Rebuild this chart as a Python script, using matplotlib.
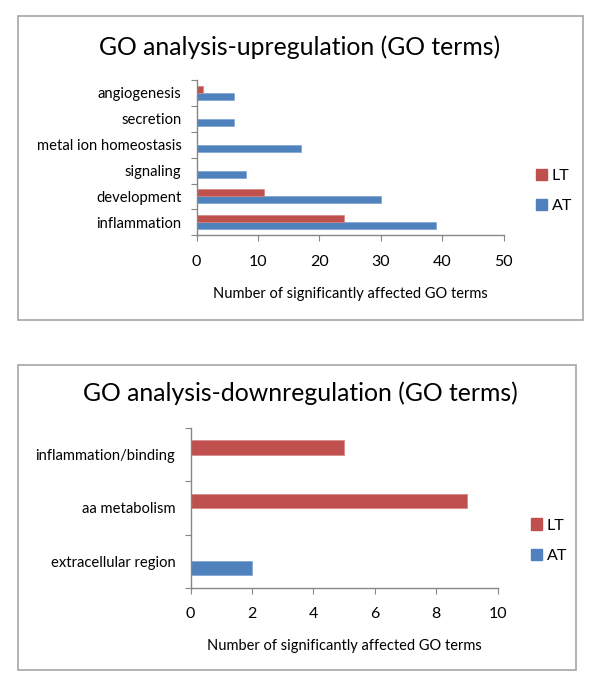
import numpy as np
import matplotlib
matplotlib.use("Agg")
import matplotlib.pyplot as plt
from matplotlib.patches import Rectangle, Patch

# Data
up_categories = ["inflammation", "development", "signaling", "metal ion homeostasis", "secretion", "angiogenesis"]
up_AT = [39, 30, 8, 17, 6, 6]
up_LT = [24, 11, 0, 0, 0, 1]
up_ticks = [0, 10, 20, 30, 40, 50]

down_categories = ["extracellular region", "aa metabolism", "inflammation/binding"]
down_AT = [2, 0, 0]
down_LT = [0, 9, 5]
down_ticks = [0, 2, 4, 6, 8, 10]

series_names = ["LT", "AT"]
xlabel = "Number of significantly affected GO terms"

RED = "#C0504D"
BLUE = "#4F81BD"
AXGRAY = "#868686"

plt.rcParams['font.family'] = ['Lato', 'DejaVu Sans']

fig = plt.figure(figsize=(6, 6.94), dpi=100)

#outer chart borders, like the Excel chart area
fig.patches.append(Rectangle((0.0305, 0.5389), 0.9407, 0.438, transform=fig.transFigure,
                             fill=False, edgecolor="#A6A6A6", linewidth=1.2))
fig.patches.append(Rectangle((0.0305, 0.0346), 0.9295, 0.4395, transform=fig.transFigure,
                             fill=False, edgecolor="#A6A6A6", linewidth=1.2))


def draw_panel(rect, cats, at, lt, ticks, title, title_y, legend_xy):
    ax = fig.add_axes(rect)
    n = len(cats)
    y = np.arange(n)
    h = 0.27
    ax.barh(y - h / 2, at, height=h, color=BLUE, edgecolor="#7FA3D3", linewidth=0.5)
    ax.barh(y + h / 2, lt, height=h, color=RED, edgecolor="#D48583", linewidth=0.5)
    ax.set_ylim(-0.5, n - 0.5)
    ax.set_xlim(ticks[0], ticks[-1])

    #category boundaries get the tick marks, labels sit on minor ticks
    ax.set_yticks(np.arange(n + 1) - 0.5)
    ax.set_yticklabels([])
    ax.set_yticks(y, minor=True)
    ax.set_yticklabels(cats, minor=True, fontsize=10.6)
    ax.tick_params(axis="y", which="major", length=4, color=AXGRAY, direction="out")
    ax.tick_params(axis="y", which="minor", length=0, pad=11)

    ax.set_xticks(ticks)
    ax.set_xticklabels([str(t) for t in ticks], fontsize=11.5)
    ax.tick_params(axis="x", length=4, color=AXGRAY, direction="out", pad=10)
    ax.set_xlabel(xlabel, fontsize=10.5, labelpad=13)

    for s in ["top", "right"]:
        ax.spines[s].set_visible(False)
    for s in ["left", "bottom"]:
        ax.spines[s].set_color(AXGRAY)
        ax.spines[s].set_linewidth(1)

    fig.text(0.5, title_y, title, ha="center", va="center", fontsize=17.8)

    handles = [Patch(color=RED), Patch(color=BLUE)]
    ax.legend(handles, series_names, loc="center left", bbox_to_anchor=legend_xy,
              bbox_transform=fig.transFigure, frameon=False, fontsize=11.5,
              handlelength=0.7, handleheight=0.7, handletextpad=0.3, labelspacing=1.0,
              borderpad=0, borderaxespad=0)
    return ax


draw_panel([0.3278, 0.6610, 0.5117, 0.2237], up_categories, up_AT, up_LT, up_ticks,
           "GO analysis-upregulation (GO terms)", 0.9323, (0.893, 0.7245))
draw_panel([0.3178, 0.1532, 0.5117, 0.2297], down_categories, down_AT, down_LT, down_ticks,
           "GO analysis-downregulation (GO terms)", 0.4337, (0.885, 0.2210))

fig.savefig("out.png", dpi=100)
